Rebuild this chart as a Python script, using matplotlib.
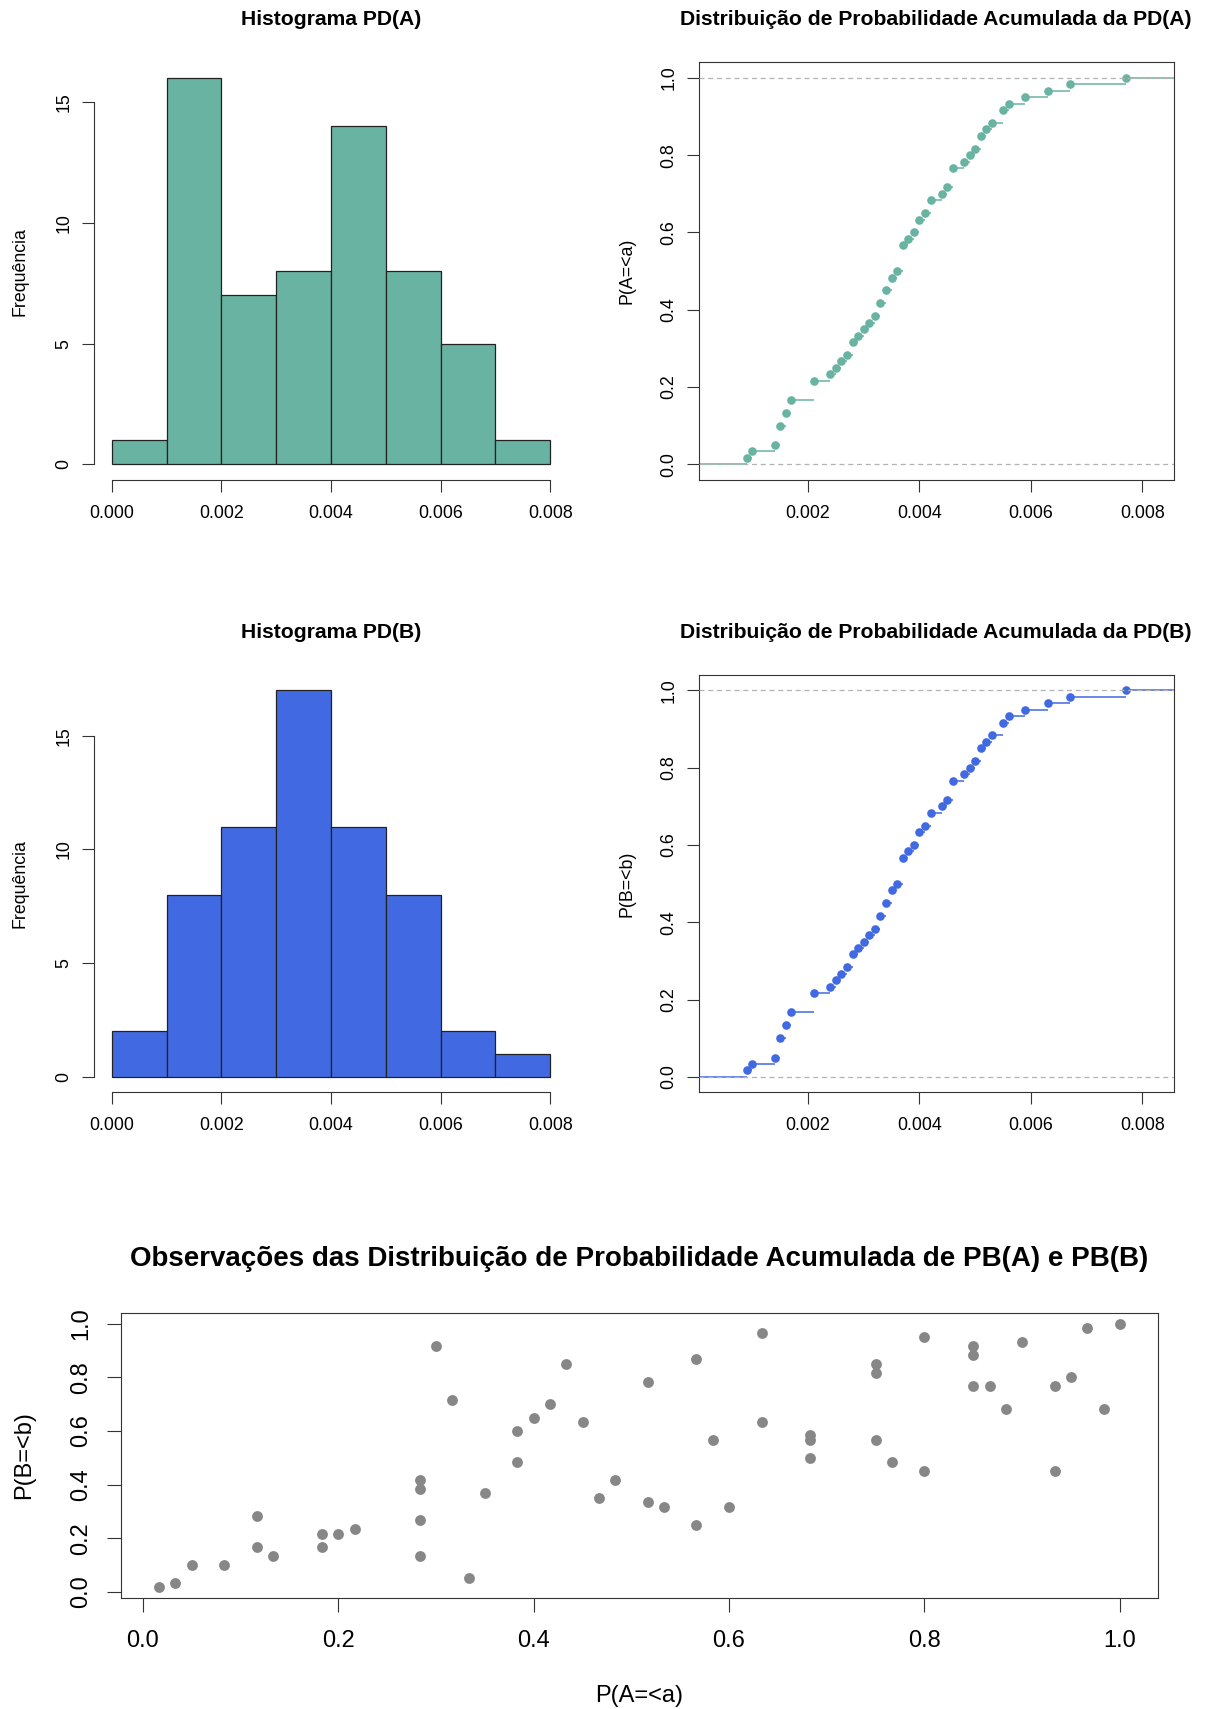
import numpy as np
import matplotlib
matplotlib.use("Agg")
import matplotlib.pyplot as plt

plt.rcParams['font.family'] = ['Liberation Sans', 'DejaVu Sans']

# ---- data ----
bin_edges = [0.000, 0.001, 0.002, 0.003, 0.004, 0.005, 0.006, 0.007, 0.008]
counts_a = [1, 16, 7, 8, 14, 8, 5, 1]
counts_b = [2, 8, 11, 17, 11, 8, 2, 1]

# distinct observed values and how many observations share each one
ecdf_values = [0.0009, 0.0010, 0.0014, 0.0015, 0.0016, 0.0017, 0.0021, 0.0024,
               0.0025, 0.0026, 0.0027, 0.0028, 0.0029, 0.0030, 0.0031, 0.0032,
               0.0033, 0.0034, 0.0035, 0.0036, 0.0037, 0.0038, 0.0039, 0.0040,
               0.0041, 0.0042, 0.0044, 0.0045, 0.0046, 0.0048, 0.0049, 0.0050,
               0.0051, 0.0052, 0.0053, 0.0055, 0.0056, 0.0059, 0.0063, 0.0067,
               0.0077]
ecdf_counts = [1, 1, 1, 3, 2, 2, 3, 1, 1, 1, 1, 2, 1, 1, 1, 1, 2, 2, 2, 1, 4,
               1, 1, 2, 1, 2, 1, 1, 3, 1, 1, 1, 2, 1, 1, 2, 1, 1, 1, 1, 1]
n_obs = 60

# cumulative ranks (out of n_obs) of each observation pair
rank_a = [1, 2, 3, 5, 7, 7, 8, 11, 11, 12, 13, 17, 17, 17, 17, 18, 19, 20, 21,
          23, 23, 24, 25, 26, 27, 28, 29, 31, 31, 32, 34, 34, 35, 36, 38, 38,
          41, 41, 41, 45, 45, 45, 46, 48, 48, 51, 51, 51, 52, 53, 54, 56, 56,
          57, 58, 59, 60]
rank_b = [1, 2, 6, 6, 17, 10, 8, 13, 10, 13, 14, 25, 23, 16, 8, 55, 43, 3, 22,
          36, 29, 39, 42, 51, 38, 21, 25, 47, 20, 19, 52, 15, 34, 19, 58, 38,
          35, 34, 30, 51, 49, 34, 29, 57, 27, 55, 53, 46, 46, 41, 56, 46, 27,
          48, 59, 41, 60]

hist_ticks = [0.000, 0.002, 0.004, 0.006, 0.008]
hist_yticks = [0, 5, 10, 15]
ecdf_xticks = [0.002, 0.004, 0.006, 0.008]
prob_ticks = [0.0, 0.2, 0.4, 0.6, 0.8, 1.0]

COL_A = '#69b3a2'
COL_B = '#4169e1'
GRAY_PTS = '#878787'
AX_COL = '#333333'

W, H = 1208, 1709
fig = plt.figure(figsize=(W / 100, H / 100), dpi=100)


def px_axes(left, top, right, bottom):
    return fig.add_axes([left / W, 1 - bottom / H, (right - left) / W, (bottom - top) / H])


BASE = 12.8
TITLE = 15.2


def style_ylabels(ax, pad_pt):
    ax.tick_params(axis='y', pad=pad_pt)
    for lbl in ax.get_yticklabels():
        lbl.set_rotation(90)
        lbl.set_ha('center')
        lbl.set_va('center')


def style_xlabels(ax, pad_pt):
    ax.tick_params(axis='x', pad=pad_pt)
    for lbl in ax.get_xticklabels():
        lbl.set_va('center')


def histogram(ax, counts, color, title, ymax):
    edges = np.array(bin_edges)
    ax.bar(edges[:-1], counts, width=np.diff(edges), align='edge',
           color=color, edgecolor='#222222', linewidth=0.9)
    ax.set_xlim(-0.00032, 0.00832)
    ax.set_ylim(-0.04 * ymax, 1.04 * ymax)
    for s in ('top', 'right'):
        ax.spines[s].set_visible(False)
    ax.spines['left'].set_bounds(0, 15)
    ax.spines['bottom'].set_bounds(0, 0.008)
    for s in ('left', 'bottom'):
        ax.spines[s].set_color(AX_COL)
        ax.spines[s].set_linewidth(0.8)
    ax.set_xticks(hist_ticks)
    ax.set_xticklabels([f'{v:.3f}' for v in hist_ticks])
    ax.set_yticks(hist_yticks)
    ax.set_yticklabels([str(v) for v in hist_yticks])
    ax.tick_params(length=8.4, width=0.8, color=AX_COL, labelsize=BASE)
    style_ylabels(ax, 13.2)
    style_xlabels(ax, 15.8)
    ax.set_ylabel('Frequência', fontsize=BASE)
    ax.yaxis.label.set_va('center')
    ax.yaxis.set_label_coords(-74.6 / 473.5, 0.5)
    ax.set_title(title, fontsize=TITLE, fontweight='bold', y=1 + 42.8 / 417.4,
                 va='center', pad=0)


def ecdf_panel(ax, color, title, ylabel):
    xs = np.array(ecdf_values)
    ys = np.cumsum(ecdf_counts) / n_obs
    x0, x1 = 0.00004, 0.00856
    ax.set_xlim(x0, x1)
    ax.set_ylim(-0.04, 1.04)
    starts = np.concatenate([[x0], xs])
    ends = np.concatenate([xs, [x1]])
    levels = np.concatenate([[0.0], ys])
    ax.hlines(levels, starts, ends, colors=color, linewidth=1.1, zorder=2)
    ax.plot(xs, ys, 'o', color=color, markersize=6.2, markeredgewidth=0, zorder=3)
    ax.axhline(0, color='#b3b3b3', linestyle=(0, (4, 3)), linewidth=0.9, zorder=4)
    ax.axhline(1, color='#b3b3b3', linestyle=(0, (4, 3)), linewidth=0.9, zorder=4)
    for s in ax.spines.values():
        s.set_color(AX_COL)
        s.set_linewidth(0.8)
    ax.set_xticks(ecdf_xticks)
    ax.set_xticklabels([f'{v:.3f}' for v in ecdf_xticks])
    ax.set_yticks(prob_ticks)
    ax.set_yticklabels([f'{v:.1f}' for v in prob_ticks])
    ax.tick_params(length=8.4, width=0.8, color=AX_COL, labelsize=BASE)
    style_ylabels(ax, 13.2)
    style_xlabels(ax, 15.8)
    ax.set_ylabel(ylabel, fontsize=BASE)
    ax.yaxis.label.set_va('center')
    ax.yaxis.set_label_coords(-71.7 / 475.0, 0.5)
    ax.set_title(title, fontsize=TITLE, fontweight='bold', y=1 + 42.8 / 417.4,
                 va='center', pad=0)


ROW2 = 612.5
ax_ha = px_axes(94.2, 62.4, 567.7, 479.8)
histogram(ax_ha, counts_a, COL_A, 'Histograma PD(A)', 16)
ax_ea = px_axes(698.7, 62.4, 1173.7, 479.8)
ecdf_panel(ax_ea, COL_A, 'Distribuição de Probabilidade Acumulada da PD(A)', 'P(A=<a)')

ax_hb = px_axes(94.2, 62.4 + ROW2, 567.7, 479.8 + ROW2)
histogram(ax_hb, counts_b, COL_B, 'Histograma PD(B)', 17)
ax_eb = px_axes(698.7, 62.4 + ROW2, 1173.7, 479.8 + ROW2)
ecdf_panel(ax_eb, COL_B, 'Distribuição de Probabilidade Acumulada da PD(B)', 'P(B=<b)')

# ---- scatter of the two cumulative probabilities ----
SC = 17.0
ax_s = px_axes(120.7, 1313.1, 1158.3, 1597.9)
pa = np.array(rank_a) / n_obs
pb = np.array(rank_b) / n_obs
ax_s.plot(pa, pb, 'o', color=GRAY_PTS, markersize=7.8, markeredgewidth=0)
lo, hi = 1 / n_obs, 1.0
ext = 0.04 * (hi - lo)
ax_s.set_xlim(lo - ext, hi + ext)
ax_s.set_ylim(lo - ext, hi + ext)
for s in ax_s.spines.values():
    s.set_color(AX_COL)
    s.set_linewidth(0.8)
ax_s.set_xticks(prob_ticks)
ax_s.set_xticklabels([f'{v:.1f}' for v in prob_ticks])
ax_s.set_yticks(prob_ticks)
ax_s.set_yticklabels([f'{v:.1f}' for v in prob_ticks])
ax_s.tick_params(length=10, width=0.8, color=AX_COL, labelsize=SC)
style_ylabels(ax_s, 18.7)
style_xlabels(ax_s, 20.9)
ax_s.set_xlabel('P(A=<a)', fontsize=SC)
ax_s.xaxis.label.set_va('center')
ax_s.xaxis.set_label_coords(0.5, -97.6 / 284.8)
ax_s.set_ylabel('P(B=<b)', fontsize=SC)
ax_s.yaxis.label.set_va('center')
ax_s.yaxis.set_label_coords(-96.7 / 1037.6, 0.5)
ax_s.set_title('Observações das Distribuição de Probabilidade Acumulada de PB(A) e PB(B)',
               fontsize=20.0, fontweight='bold', y=1 + 53.8 / 284.8, va='center', pad=0)

fig.savefig('out.png', dpi=100)
